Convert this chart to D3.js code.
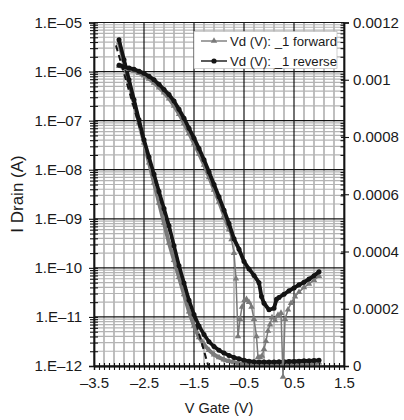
<!DOCTYPE html>
<html><head><meta charset="utf-8">
<script src="https://cdn.jsdelivr.net/npm/d3@7"></script>
<style>body{margin:0;background:#fff} svg{display:block} text{font-family:"Liberation Sans",Arial,Helvetica,sans-serif;fill:#1a1a1a}</style>
</head><body><svg id="c" width="404" height="420"></svg>
<script>
// ---------- data ----------
const xTickValues = [-3.5, -2.5, -1.5, -0.5, 0.5, 1.5];
const xTickLabels = ["–3.5", "–2.5", "–1.5", "–0.5", "0.5", "1.5"];
const yLeftTickValues = [1e-12, 1e-11, 1e-10, 1e-9, 1e-8, 1e-7, 1e-6, 1e-5];
const yLeftTickLabels = ["1.E–12", "1.E–11", "1.E–10", "1.E–09", "1.E–08", "1.E–07", "1.E–06", "1.E–05"];
const yRightTickValues = [0, 0.0002, 0.0004, 0.0006, 0.0008, 0.001, 0.0012];
const yRightTickLabels = ["0", "0.0002", "0.0004", "0.0006", "0.0008", "0.001", "0.0012"];
const seriesNames = ["Vd (V): _1 forward", "Vd (V): _1 reverse"];
const xTitle = "V Gate (V)";
const yTitle = "I Drain (A)";

// reverse sweep, log (left axis)
const revLogV = [-3.0,-2.9,-2.8,-2.7,-2.6,-2.5,-2.4,-2.3,-2.2,-2.1,-2.0,-1.9,-1.8,-1.7,-1.6,-1.5,-1.4,-1.3,-1.2,-1.1,-1.0,-0.9,-0.8,-0.7,-0.6,-0.5,-0.4,-0.3,-0.2,-0.15,-0.1,0.0,0.1,0.15,0.2,0.3,0.4,0.5,0.6,0.7,0.8,0.9,1.0];
const revLogI = [1.35e-6,1.25e-6,1.18e-6,1.12e-6,1.02e-6,9.2e-7,8.0e-7,6.8e-7,5.5e-7,4.3e-7,3.4e-7,2.5e-7,1.7e-7,1.12e-7,7.0e-8,4.4e-8,2.7e-8,1.6e-8,9.0e-9,5.0e-9,2.8e-9,1.5e-9,8.0e-10,3.9e-10,2.4e-10,1.35e-10,9.5e-11,7.0e-11,5.0e-11,2.6e-11,1.9e-11,1.4e-11,1.5e-11,2.3e-11,2.5e-11,2.9e-11,3.4e-11,3.9e-11,4.5e-11,5.1e-11,5.9e-11,6.9e-11,8.3e-11];

// forward sweep, log (left axis)
const fwdLogV = [-3.0,-2.9,-2.8,-2.7,-2.6,-2.5,-2.4,-2.3,-2.2,-2.1,-2.0,-1.9,-1.8,-1.7,-1.6,-1.5,-1.4,-1.3,-1.2,-1.1,-1.0,-0.9,-0.8,-0.75,-0.70,-0.66,-0.62,-0.58,-0.54,-0.49,-0.45,-0.40,-0.35,-0.30,-0.25,-0.22,-0.18,-0.14,-0.10,-0.06,-0.02,0.02,0.06,0.12,0.18,0.24,0.28,0.32,0.38,0.44,0.52,0.60,0.70,0.80,0.90,1.0];
const fwdLogI = [1.3e-6,1.2e-6,1.12e-6,1.03e-6,9.3e-7,8.3e-7,7.1e-7,5.9e-7,4.7e-7,3.7e-7,2.8e-7,2.0e-7,1.35e-7,8.8e-8,5.5e-8,3.4e-8,2.1e-8,1.25e-8,7.0e-9,3.9e-9,2.2e-9,1.15e-9,6.0e-10,3.8e-10,2.0e-10,6.0e-11,4.0e-12,9.0e-12,1.6e-11,2.2e-11,2.3e-11,2.0e-11,1.6e-11,9.0e-12,4.0e-12,1.5e-12,1.5e-12,1.6e-12,2.2e-12,3.2e-12,5.2e-12,7.0e-12,9.8e-12,8.5e-12,1.1e-11,1.2e-11,6.0e-13,9.0e-12,1.4e-11,1.9e-11,2.6e-11,3.2e-11,4.0e-11,4.7e-11,5.6e-11,6.8e-11];

// reverse sweep, linear (right axis)
const revLinV = [-3.0,-2.9,-2.8,-2.7,-2.6,-2.5,-2.4,-2.3,-2.2,-2.1,-2.0,-1.9,-1.8,-1.7,-1.6,-1.5,-1.4,-1.3,-1.2,-1.1,-1.0,-0.9,-0.8,-0.7,-0.6,-0.5,-0.4,-0.3,-0.2,-0.1,0.0,0.1,0.2,0.3,0.4,0.5,0.6,0.7,0.8,0.9,1.0];
const revLinI = [0.00114,0.00107,0.00100,0.00093,0.00086,0.00079,0.00073,0.00067,0.00061,0.00055,0.00049,0.00042,0.00035,0.00029,0.00023,0.00018,0.00014,0.00011,0.000085,0.000068,0.000055,0.000045,0.000037,0.000030,0.000025,0.000020,0.000017,0.000015,0.000014,0.000014,0.000014,0.000014,0.000015,0.000015,0.000016,0.000016,0.000017,0.000018,0.000018,0.000019,0.000020];

// forward sweep, linear (right axis)
const fwdLinV = [-3.0,-2.9,-2.8,-2.7,-2.6,-2.5,-2.4,-2.3,-2.2,-2.1,-2.0,-1.9,-1.8,-1.7,-1.6,-1.5,-1.4,-1.3,-1.2,-1.1,-1.0,-0.9,-0.8,-0.7,-0.6,-0.5,-0.4,-0.3,-0.2,-0.1,0.0,0.1,0.2,0.3,0.4,0.5,0.6,0.7,0.8,0.9,1.0];
const fwdLinI = [0.00113,0.00106,0.00099,0.00092,0.00085,0.00078,0.00071,0.00064,0.00057,0.00050,0.00043,0.00037,0.00031,0.00025,0.00019,0.00014,0.00010,0.000075,0.000055,0.000040,0.000030,0.000022,0.000017,0.000013,0.000010,0.000008,0.000007,0.000007,0.000007,0.000007,0.000007,0.000007,0.000008,0.000008,0.000008,0.000009,0.000009,0.000010,0.000010,0.000011,0.000012];

// linear extrapolation (dashed) on right axis
const fitV = [-3.06, -1.19];
const fitI = [0.00112, -0.000014];

// ---------- chart ----------
const svg = d3.select("#c");
const L = 94, R = 344, T = 22.5, B = 366;
const x = d3.scaleLinear().domain([-3.5, 1.5]).range([L, R]);
const yL = d3.scaleLog().domain([1e-12, 1e-5]).range([B, T]);
const yR = d3.scaleLinear().domain([0, 0.0012]).range([B, T]);

const grey = "#7a7a7a", gridGrey = "#b4b4b4", black = "#141414";

// grid
const g = svg.append("g");
const minorX = d3.range(-3.5, 1.5001, 0.2).map(v => +v.toFixed(2)).filter(v => !xTickValues.some(t => Math.abs(t - v) < 1e-6));
const minorY = [];
for (let e = -12; e < -5; e++) for (let k = 2; k <= 9; k++) minorY.push(k * Math.pow(10, e));
g.selectAll(".mx").data(minorX).join("line")
  .attr("x1", d => x(d)).attr("x2", d => x(d)).attr("y1", T).attr("y2", B)
  .attr("stroke", gridGrey).attr("stroke-width", 1.7);
g.selectAll(".my").data(minorY).join("line")
  .attr("x1", L).attr("x2", R).attr("y1", d => yL(d)).attr("y2", d => yL(d))
  .attr("stroke", gridGrey).attr("stroke-width", 1.2);
g.selectAll(".Mx").data(xTickValues).join("line")
  .attr("x1", d => x(d)).attr("x2", d => x(d)).attr("y1", T).attr("y2", B)
  .attr("stroke", black).attr("stroke-width", 1.2);
g.selectAll(".My").data(yLeftTickValues).join("line")
  .attr("x1", L).attr("x2", R).attr("y1", d => yL(d)).attr("y2", d => yL(d))
  .attr("stroke", black).attr("stroke-width", 1.2);

// series
function drawSeries(V, I, yScale, color, marker, lw, thinFrom, thinLw) {
  const pts = V.map((v, i) => ({ v, i: I[i] }));
  const line = d3.line().x(d => x(d.v)).y(d => yScale(d.i));
  const gg = svg.append("g");
  const cut = thinFrom === undefined ? pts.length : pts.findIndex(d => d.v > thinFrom);
  gg.append("path").datum(pts.slice(0, cut)).attr("d", line).attr("fill", "none")
    .attr("stroke", color).attr("stroke-width", lw).attr("stroke-linejoin", "round").attr("stroke-linecap", "round");
  if (cut < pts.length) {
    gg.append("path").datum(pts.slice(cut - 1)).attr("d", line).attr("fill", "none")
      .attr("stroke", color).attr("stroke-width", thinLw).attr("stroke-linejoin", "round");
  }
  if (marker === "tri") {
    gg.selectAll("path.m").data(pts).join("path").attr("class", "m")
      .attr("d", d3.symbol(d3.symbolTriangle).size(18)())
      .attr("transform", d => `translate(${x(d.v)},${yScale(d.i)})`).attr("fill", color);
  } else {
    gg.selectAll("circle").data(pts).join("circle")
      .attr("cx", d => x(d.v)).attr("cy", d => yScale(d.i)).attr("r", 2.5).attr("fill", color);
  }
}
drawSeries(fwdLinV, fwdLinI, yR, grey, "tri", 4);
drawSeries(revLinV, revLinI, yR, black, "circ", 3.6);
drawSeries(fwdLogV, fwdLogI, yL, grey, "tri", 3.6, -0.8, 1.5);
drawSeries(revLogV, revLogI, yL, black, "circ", 3.8);

svg.append("path").datum(fitV.map((v, i) => ({ v, i: fitI[i] })))
  .attr("d", d3.line().x(d => x(d.v)).y(d => yR(d.i)))
  .attr("fill", "none").attr("stroke", black).attr("stroke-width", 2).attr("stroke-dasharray", "6,4");

// axes
const fontSize = "15px";
svg.append("g").attr("transform", `translate(0,${B})`)
  .call(d3.axisBottom(x).tickValues(xTickValues).tickFormat((d, i) => xTickLabels[i]).tickSize(4).tickPadding(7));
const xMinor = d3.range(-3.5, 1.5001, 0.1).map(v => +v.toFixed(2));
svg.append("g").attr("transform", `translate(0,${B})`)
  .call(d3.axisBottom(x).tickValues(xMinor).tickFormat("").tickSize(4).tickSizeOuter(0));
svg.append("g").attr("transform", `translate(0,${B})`)
  .call(d3.axisBottom(x).tickValues(xMinor).tickFormat("").tickSize(-3).tickSizeOuter(0));

svg.append("g").attr("transform", `translate(${L},0)`)
  .call(d3.axisLeft(yL).tickValues(yLeftTickValues).tickFormat((d, i) => yLeftTickLabels[i]).tickSize(5).tickPadding(7));
svg.append("g").attr("transform", `translate(${L},0)`)
  .call(d3.axisLeft(yL).tickValues(minorY).tickFormat("").tickSize(4).tickSizeOuter(0));
svg.append("g").attr("transform", `translate(${L},0)`)
  .call(d3.axisLeft(yL).tickValues(minorY.concat(yLeftTickValues)).tickFormat("").tickSize(-4).tickSizeOuter(0));

svg.append("g").attr("transform", `translate(${R},0)`)
  .call(d3.axisRight(yR).tickValues(yRightTickValues).tickFormat((d, i) => yRightTickLabels[i]).tickSize(5).tickPadding(4));
svg.append("g").attr("transform", `translate(${R},0)`)
  .call(d3.axisRight(yR).tickValues(yRightTickValues).tickFormat("").tickSize(-3).tickSizeOuter(0));
svg.append("g").attr("transform", `translate(${R},0)`)
  .call(d3.axisRight(yL).tickValues(minorY).tickFormat("").tickSize(-3.5).tickSizeOuter(0));

svg.selectAll(".domain").attr("stroke", black).attr("stroke-width", 1.3);
svg.selectAll(".tick line").attr("stroke", black).attr("stroke-width", 1.1);
svg.selectAll(".tick text").attr("font-size", fontSize).attr("fill", "#1a1a1a")
  .attr("font-family", "'Liberation Sans', Arial, sans-serif");

// titles
svg.append("text").attr("x", 219).attr("y", 413).attr("text-anchor", "middle")
  .attr("font-size", "14.5px").text(xTitle);
svg.append("text").attr("transform", `translate(23,194) rotate(-90)`).attr("text-anchor", "middle")
  .attr("font-size", "17px").text(yTitle);

// legend
const lg = svg.append("g");
lg.append("rect").attr("x", 194).attr("y", 31.5).attr("width", 143).attr("height", 37)
  .attr("fill", "#fff").attr("stroke", "#bbb").attr("stroke-width", 0.7);
const legItems = [{ name: seriesNames[0], color: grey, m: "tri" }, { name: seriesNames[1], color: black, m: "circ" }];
legItems.forEach((it, i) => {
  const yy = 41 + i * 20;
  lg.append("line").attr("x1", 201).attr("x2", 227).attr("y1", yy).attr("y2", yy)
    .attr("stroke", it.color).attr("stroke-width", 1.4);
  if (it.m === "tri") lg.append("path").attr("d", d3.symbol(d3.symbolTriangle).size(18)())
    .attr("transform", `translate(214,${yy})`).attr("fill", it.color);
  else lg.append("circle").attr("cx", 214).attr("cy", yy).attr("r", 2.6).attr("fill", it.color);
  lg.append("text").attr("x", 230).attr("y", yy + 4.5).attr("font-size", "13.2px").text(it.name);
});
</script></body></html>
